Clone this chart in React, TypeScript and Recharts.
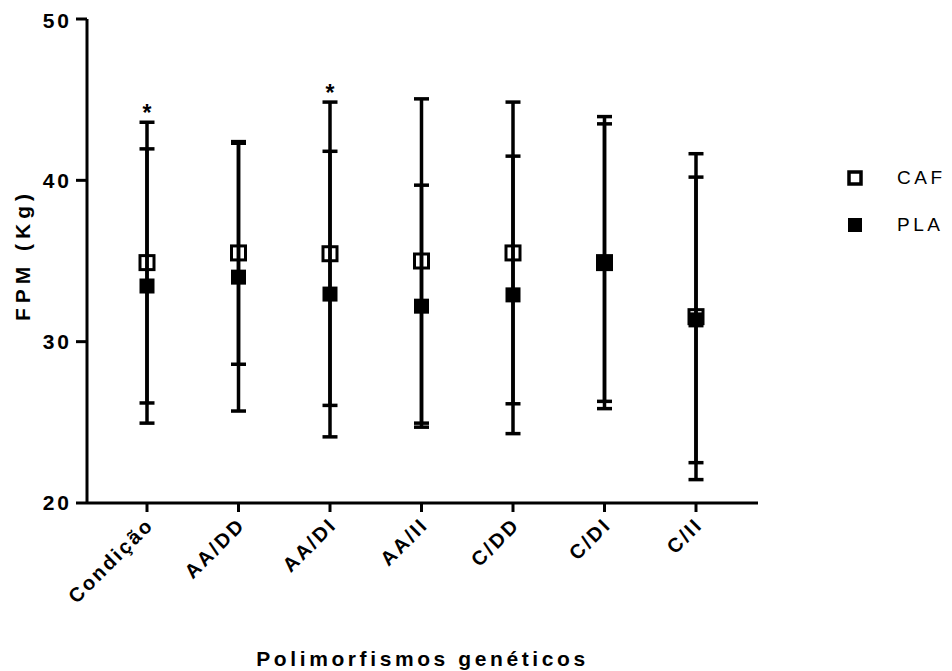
import { ComposedChart, Line, XAxis, YAxis, ErrorBar, Label } from 'recharts';

const categories = ['Condição', 'AA/DD', 'AA/DI', 'AA/II', 'C/DD', 'C/DI', 'C/II'];
const cafMean = [34.9, 35.5, 35.45, 35.0, 35.5, 34.9, 31.55];
const cafSem = [8.7, 6.9, 9.4, 10.05, 9.35, 9.05, 10.1];
const plaMean = [33.45, 34.0, 32.95, 32.2, 32.9, 34.9, 31.35];
const plaSem = [8.5, 8.3, 8.85, 7.5, 8.6, 8.6, 8.85];
const significant = [true, false, true, false, false, false, false];
const yTicks = [20, 30, 40, 50];

const data = categories.map((name, i) => ({
  name,
  caf: cafMean[i],
  cafErr: cafSem[i],
  pla: plaMean[i],
  plaErr: plaSem[i],
  star: significant[i] ? cafMean[i] + cafSem[i] : null,
}));

const FONT = '"Liberation Sans", Arial, Helvetica, sans-serif';

function CafDot({ cx, cy, index }: any) {
  if (cx == null || cy == null) return <g key={`caf-${index}`} />;
  return (
    <rect
      key={`caf-${index}`}
      x={cx - 7}
      y={cy - 7}
      width={14}
      height={14}
      fill="none"
      stroke="#000"
      strokeWidth={3}
    />
  );
}

function PlaDot({ cx, cy, index }: any) {
  if (cx == null || cy == null) return <g key={`pla-${index}`} />;
  return <rect key={`pla-${index}`} x={cx - 7.5} y={cy - 7.5} width={15} height={15} fill="#000" />;
}

function StarDot({ cx, cy, index, value }: any) {
  if (cx == null || cy == null || value == null) return <g key={`star-${index}`} />;
  return (
    <text
      key={`star-${index}`}
      x={cx}
      y={cy - 1}
      textAnchor="middle"
      fontFamily={FONT}
      fontWeight="bold"
      fontSize={23}
      fill="#000"
    >
      *
    </text>
  );
}

function XTick({ x, y, payload }: any) {
  return (
    <g transform={`translate(${x},${y})`}>
      <text
        transform="translate(8,12) rotate(-45)"
        textAnchor="end"
        fontFamily={FONT}
        fontWeight="bold"
        fontSize={20}
        letterSpacing={2.5}
        fill="#000"
      >
        {payload.value}
      </text>
    </g>
  );
}

function YTitle() {
  return (
    <text
      transform="translate(22,247) rotate(-90)"
      textAnchor="middle"
      fontFamily={FONT}
      fontWeight="bold"
      fontSize={21}
      letterSpacing={5}
      fill="#000"
    >
      FPM (Kg)
    </text>
  );
}

function XTitle({ viewBox }: any) {
  const cx = viewBox ? viewBox.x + viewBox.width / 2 : 414;
  return (
    <text
      x={cx}
      y={658}
      textAnchor="middle"
      fontFamily={FONT}
      fontWeight="bold"
      fontSize={21}
      letterSpacing={3.6}
      fill="#000"
    >
      Polimorfismos genéticos
    </text>
  );
}

function LegendBox() {
  const items = [
    { label: 'CAF', filled: false },
    { label: 'PLA', filled: true },
  ];
  return (
    <div style={{ position: 'absolute', left: 837, top: 146, fontFamily: FONT }}>
      {items.map((it) => (
        <div key={it.label} style={{ display: 'flex', alignItems: 'center', height: 47 }}>
          <svg width={20} height={20} style={{ marginRight: 32 }}>
            {it.filled ? (
              <rect x={3} y={3} width={14} height={14} fill="#000" />
            ) : (
              <rect x={4} y={4} width={12} height={12} fill="none" stroke="#000" strokeWidth={3.5} />
            )}
          </svg>
          <span style={{ fontSize: 19, letterSpacing: 3.5, color: '#000' }}>{it.label}</span>
        </div>
      ))}
    </div>
  );
}

export default function App() {
  return (
    <div style={{ position: 'relative', width: 944, height: 663 }}>
      <ComposedChart
        width={944}
        height={663}
        data={data}
        margin={{ top: 11, right: 194, left: 19, bottom: 8 }}
      >
        <XAxis
          dataKey="name"
          interval={0}
          height={160}
          padding={{ left: 60, right: 62 }}
          axisLine={{ stroke: '#000', strokeWidth: 3 }}
          tickLine={{ stroke: '#000', strokeWidth: 3 }}
          tickSize={9}
          tickMargin={2}
          tick={<XTick />}
        >
          <Label content={<XTitle />} />
        </XAxis>
        <YAxis
          type="number"
          domain={[20, 50]}
          ticks={yTicks}
          allowDataOverflow
          width={60}
          axisLine={{ stroke: '#000', strokeWidth: 3 }}
          tickLine={{ stroke: '#000', strokeWidth: 3 }}
          tickSize={11}
          tickMargin={4}
          tick={{ fontFamily: FONT, fontWeight: 'bold', fontSize: 21, fill: '#000', letterSpacing: 3 }}
        >
          <Label content={<YTitle />} />
        </YAxis>
        <Line
          dataKey="caf"
          stroke="none"
          dot={<CafDot />}
          activeDot={false}
          isAnimationActive={false}
        >
          <ErrorBar dataKey="cafErr" width={7.5} strokeWidth={3.5} stroke="#000" direction="y" />
        </Line>
        <Line
          dataKey="pla"
          stroke="none"
          dot={<PlaDot />}
          activeDot={false}
          isAnimationActive={false}
        >
          <ErrorBar dataKey="plaErr" width={7.5} strokeWidth={3.5} stroke="#000" direction="y" />
        </Line>
        <Line
          dataKey="star"
          stroke="none"
          dot={<StarDot />}
          activeDot={false}
          isAnimationActive={false}
          connectNulls={false}
        />
      </ComposedChart>
      <LegendBox />
    </div>
  );
}
